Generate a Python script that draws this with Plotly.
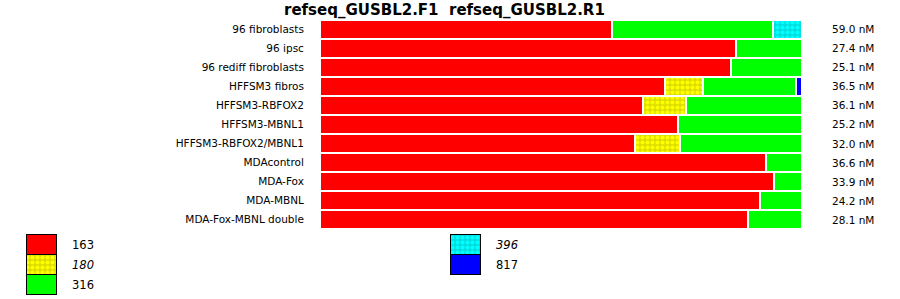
import plotly.graph_objects as go

W, H = 900, 299

samples = ["96 fibroblasts", "96 ipsc", "96 rediff fibroblasts", "HFFSM3 fibros",
           "HFFSM3-RBFOX2", "HFFSM3-MBNL1", "HFFSM3-RBFOX2/MBNL1", "MDAcontrol",
           "MDA-Fox", "MDA-MBNL", "MDA-Fox-MBNL double"]
concentrations = ["59.0 nM", "27.4 nM", "25.1 nM", "36.5 nM", "36.1 nM", "25.2 nM",
                  "32.0 nM", "36.6 nM", "33.9 nM", "24.2 nM", "28.1 nM"]

isoforms = ["163", "180", "316", "396", "817"]
pct_163 = [60.5, 86.4, 85.3, 71.6, 67.0, 74.3, 65.3, 92.6, 94.1, 91.2, 88.7]
pct_180 = [None, None, None, 7.9, 9.0, None, 9.4, None, None, None, None]
pct_316 = [33.4, 13.6, 14.7, 19.3, 24.0, 25.7, 25.3, 7.4, 5.9, 8.8, 11.3]
pct_396 = [6.1, None, None, None, None, None, None, None, None, None, None]
pct_817 = [None, None, None, 1.2, None, None, None, None, None, None, None]
series = [pct_163, pct_180, pct_316, pct_396, pct_817]

italic_isoforms = ["180", "396"]

# styles
styles = {
    "163": dict(color="#ff0000"),
    "180": dict(color="#dddd00", pattern=dict(shape=".", bgcolor="#dddd00", fgcolor="#ffff00",
                                              size=5, solidity=0.5, fillmode="replace")),
    "316": dict(color="#00ff00"),
    "396": dict(color="#00dddd", pattern=dict(shape=".", bgcolor="#00dddd", fgcolor="#00ffff",
                                              size=5, solidity=0.5, fillmode="replace")),
    "817": dict(color="#0000ff"),
}

FONT = "DejaVu Sans"
fig = go.Figure()

for iso, vals in zip(isoforms, series):
    st = styles[iso]
    marker = dict(color=st["color"], line=dict(color="white", width=2))
    if "pattern" in st:
        marker["pattern"] = st["pattern"]
    fig.add_trace(go.Bar(y=samples, x=vals, orientation="h", name=iso, marker=marker,
                         showlegend=False, xaxis="x", yaxis="y"))

# legend swatches (pixel-coordinate overlay axis)
legend_pos = {"163": (27, 235), "180": (27, 255), "316": (27, 275),
              "396": (451, 235), "817": (451, 255)}
for iso in isoforms:
    st = styles[iso]
    x0, y0 = legend_pos[iso]
    marker = dict(color=st["color"], line=dict(color="black", width=1))
    if "pattern" in st:
        marker["pattern"] = st["pattern"]
    fig.add_trace(go.Bar(x=[x0 + 15], y=[20], base=[y0], width=[30], marker=marker,
                         showlegend=False, xaxis="x2", yaxis="y2", hoverinfo="skip"))
    label = f"<i>{iso}</i>" if iso in italic_isoforms else iso
    fig.add_annotation(x=(x0 + 43) / W, y=1 - (y0 + 10) / H, xref="paper", yref="paper",
                       text=label, showarrow=False, xanchor="left", yanchor="middle",
                       font=dict(family=FONT, size=11.5, color="black"))

for s, c in zip(samples, concentrations):
    fig.add_annotation(x=830 / W, y=s, xref="paper", yref="y", text=c, showarrow=False,
                       xanchor="left", yanchor="middle",
                       font=dict(family=FONT, size=10.5, color="black"))

fig.add_annotation(x=444 / W, y=1 - 10 / H, xref="paper", yref="paper",
                   text="<b>refseq_GUSBL2.F1  refseq_GUSBL2.R1</b>", showarrow=False,
                   xanchor="center", yanchor="middle",
                   font=dict(family=FONT, size=15, color="black"))

fig.update_layout(
    width=W, height=H,
    margin=dict(l=0, r=0, t=0, b=0),
    paper_bgcolor="white", plot_bgcolor="rgba(0,0,0,0)",
    barmode="stack", bargap=0,
    xaxis=dict(domain=[320 / W, 802 / W], range=[0, 100], visible=False, fixedrange=True),
    yaxis=dict(domain=[70 / H, 279 / H], autorange="reversed", showgrid=False,
               zeroline=False, showline=False, ticks="outside", ticklen=13,
               tickcolor="rgba(0,0,0,0)", tickfont=dict(family=FONT, size=10.5, color="black")),
    xaxis2=dict(domain=[0, 1], range=[0, W], visible=False, anchor="y2", fixedrange=True),
    yaxis2=dict(domain=[0, 1], range=[H, 0], visible=False, anchor="x2", fixedrange=True),
    showlegend=False,
)

fig.write_html("out.html")
